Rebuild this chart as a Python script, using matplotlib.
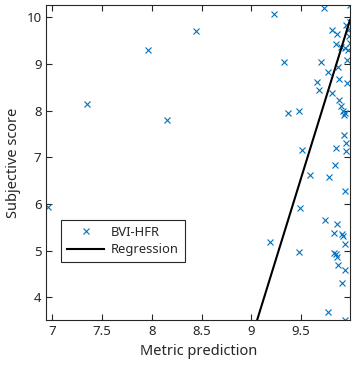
import matplotlib
matplotlib.use("Agg")
import matplotlib.pyplot as plt
import numpy as np

plt.rcParams['font.family'] = ['Noto Sans', 'DejaVu Sans']

metric_pred = [6.96, 7.35, 7.957, 8.15, 8.447,
               9.227, 9.733, 9.987, 9.81, 9.863, 9.95, 9.99, 9.973, 9.983,
               9.845, 9.895, 9.94, 9.985, 9.97, 9.96, 9.323, 9.695, 9.773,
               9.867, 9.88, 9.66, 9.955, 9.677, 9.807, 9.883, 9.90, 9.923,
               9.943, 9.93, 9.363, 9.48, 9.93, 9.953, 9.847, 9.95, 9.507,
               9.84, 9.593, 9.783, 9.94, 9.483, 9.743, 9.857, 9.833, 9.907,
               9.917, 9.94, 9.187, 9.473, 9.83, 9.847, 9.863, 9.87, 9.937,
               9.91, 9.77, 9.94]
subj_score = [5.94, 8.15, 9.29, 7.79, 9.70,
              10.08, 10.19, 10.26, 9.72, 9.65, 9.83, 9.90, 9.72, 9.61,
              9.42, 9.36, 9.34, 9.44, 9.29, 9.09, 9.04, 9.04, 8.82,
              8.94, 8.68, 8.61, 8.59, 8.44, 8.37, 8.22, 8.09, 7.99,
              7.95, 7.90, 7.94, 7.99, 7.47, 7.31, 7.20, 7.13, 7.15,
              6.83, 6.62, 6.57, 6.27, 5.92, 5.66, 5.57, 5.39, 5.35,
              5.32, 5.14, 5.18, 4.97, 4.96, 4.93, 4.86, 4.70, 4.59,
              4.30, 3.68, 3.51]

reg_slope = 6.89
reg_intercept = -58.89

x_ticks = [7, 7.5, 8, 8.5, 9, 9.5]
x_ticklabels = ['7', '7.5', '8', '8.5', '9', '9.5']
y_ticks = [4, 5, 6, 7, 8, 9, 10]
y_ticklabels = ['4', '5', '6', '7', '8', '9', '10']

fig = plt.figure(figsize=(3.56, 3.69), dpi=100)
ax = fig.add_axes([0.130, 0.132, 0.854, 0.854])

ax.plot(metric_pred, subj_score, linestyle='none', marker='x', color='#0072BD',
        markersize=4.5, markeredgewidth=0.8, label='BVI-HFR')
xl = np.array([min(metric_pred), max(metric_pred)])
ax.plot(xl, reg_slope * xl + reg_intercept, color='black', linewidth=1.5,
        label='Regression')

ax.set_xlim(6.94, 9.993)
ax.set_ylim(3.51, 10.26)
ax.set_xticks(x_ticks)
ax.set_xticklabels(x_ticklabels)
ax.set_yticks(y_ticks)
ax.set_yticklabels(y_ticklabels)

dark = '#262626'
for s in ax.spines.values():
    s.set_color(dark)
    s.set_linewidth(0.8)
ax.tick_params(direction='in', length=4, width=0.8, colors=dark,
               labelsize=9.5, top=True, right=True)
ax.set_xlabel('Metric prediction', fontsize=10.5, color=dark)
ax.set_ylabel('Subjective score', fontsize=10.5, color=dark)

leg = ax.legend(loc='lower left', bbox_to_anchor=(0.049, 0.185),
                borderaxespad=0, fancybox=False, framealpha=1,
                edgecolor=dark, fontsize=9.3, handlelength=2.9,
                handletextpad=0.5, borderpad=0.45, labelspacing=0.35)
leg.get_frame().set_linewidth(0.8)
for t in leg.get_texts():
    t.set_color(dark)

fig.savefig('out.png', dpi=100)
